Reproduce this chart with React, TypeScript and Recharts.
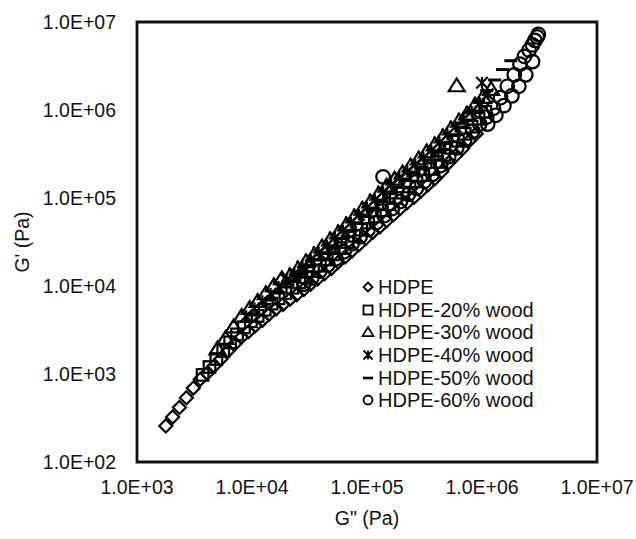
import React from 'react';
import { ScatterChart, Scatter, XAxis, YAxis, ReferenceArea } from 'recharts';

// G'' (x) and G' (y) values, Pa
const hdpeGpp = [1780, 2040, 2340, 2690, 3090, 3550, 4070, 4680, 5370, 6170, 7080, 8130, 9330, 10700, 12300, 14100, 16200, 18600, 21400, 24500, 28200, 32400, 37200, 42700, 49000, 56200, 64600, 74100, 85100, 97700, 112000, 129000, 148000, 170000, 195000, 224000, 257000, 295000, 339000, 389000, 447000, 513000, 589000, 676000, 776000, 891000];
const hdpeGp = [257, 324, 417, 537, 692, 871, 1020, 1230, 1480, 1820, 2190, 2630, 3020, 3550, 4070, 4790, 5500, 6170, 7080, 7940, 9120, 10500, 12000, 13800, 15800, 18600, 21400, 25100, 29500, 34700, 40700, 46800, 55000, 64600, 75900, 89100, 102000, 120000, 141000, 166000, 200000, 251000, 302000, 363000, 447000, 537000];

const w20Gpp = [3720, 4270, 4900, 5620, 6460, 7410, 8510, 9770, 11200, 12900, 14800, 17000, 19500, 22400, 25700, 29500, 33900, 38900, 44700, 51300, 58900, 67600, 77600, 89100, 102000, 117000, 135000, 155000, 178000, 204000, 234000, 269000, 309000, 355000, 407000, 468000, 537000, 617000, 708000, 813000, 933000, 1070000];
const w20Gp = [977, 1200, 1480, 1820, 2290, 2820, 3390, 3980, 4570, 5370, 6310, 7240, 8320, 9550, 11000, 12600, 14800, 17000, 20000, 22900, 26900, 31600, 37200, 43700, 52500, 61700, 72400, 85100, 100000, 115000, 135000, 155000, 182000, 214000, 257000, 309000, 372000, 447000, 537000, 646000, 794000, 955000];

const w30Gpp = [5010, 5890, 6920, 8130, 9550, 11200, 13200, 15500, 18200, 21400, 25100, 29500, 34700, 40700, 47900, 56200, 66100, 77600, 91200, 107000, 126000, 148000, 174000, 204000, 240000, 282000, 331000, 389000, 457000, 537000, 631000, 741000, 871000, 1020000, 1200000, 603000];
const w30Gp = [1950, 2570, 3470, 4570, 5620, 6760, 8320, 10200, 12300, 13200, 15800, 19100, 22900, 28200, 33900, 40700, 50100, 61700, 75900, 91200, 112000, 138000, 166000, 195000, 234000, 282000, 339000, 407000, 501000, 617000, 759000, 912000, 1150000, 1410000, 1740000, 1910000];

const w40Gpp = [8910, 10500, 12300, 14500, 17000, 20000, 23400, 27500, 32400, 38000, 44700, 52500, 61700, 72400, 85100, 100000, 117000, 138000, 162000, 191000, 224000, 263000, 309000, 363000, 427000, 501000, 589000, 692000, 813000, 955000, 1120000, 1000000];
const w40Gp = [4570, 5620, 6760, 8130, 9770, 11700, 13800, 16600, 20000, 24000, 28800, 35500, 42700, 52500, 64600, 77600, 95500, 117000, 141000, 170000, 200000, 240000, 288000, 347000, 427000, 525000, 646000, 794000, 955000, 1200000, 1510000, 2040000];

const w50Gpp = [14100, 16600, 19500, 22900, 26900, 31600, 37200, 43700, 51300, 60300, 70800, 83200, 97700, 115000, 135000, 158000, 186000, 219000, 257000, 302000, 355000, 417000, 490000, 575000, 676000, 794000, 933000, 1100000, 1290000, 1510000, 1780000];
const w50Gp = [6920, 8320, 9770, 11700, 13800, 16600, 20000, 23400, 28200, 34700, 41700, 51300, 61700, 75900, 91200, 112000, 132000, 158000, 191000, 224000, 269000, 331000, 417000, 513000, 708000, 933000, 1260000, 1660000, 2190000, 2880000, 3630000];

const w60Gpp = [28200, 33100, 38900, 45700, 53700, 63100, 74100, 87100, 102000, 120000, 141000, 166000, 195000, 229000, 269000, 316000, 372000, 437000, 513000, 603000, 708000, 832000, 955000, 138000, 1100000, 1260000, 1450000, 1660000, 1910000, 2140000, 2340000, 2570000, 2750000, 2880000, 3020000, 3090000, 1120000, 1320000, 1550000, 1820000, 2090000, 2400000, 2750000];
const w60Gp = [10500, 12300, 14800, 17400, 20400, 24500, 30200, 36300, 43700, 52500, 63100, 75900, 91200, 110000, 129000, 155000, 186000, 234000, 295000, 372000, 457000, 575000, 692000, 174000, 832000, 1050000, 1380000, 1860000, 2510000, 3310000, 4070000, 4790000, 5500000, 6170000, 6760000, 7240000, 692000, 871000, 1120000, 1450000, 1860000, 2510000, 3550000];

const seriesNames = ['HDPE', 'HDPE-20% wood', 'HDPE-30% wood', 'HDPE-40% wood', 'HDPE-50% wood', 'HDPE-60% wood'];

const xTicks = [1e3, 1e4, 1e5, 1e6, 1e7];
const xTickLabels = ['1.0E+03', '1.0E+04', '1.0E+05', '1.0E+06', '1.0E+07'];
const yTicks = [1e2, 1e3, 1e4, 1e5, 1e6, 1e7];
const yTickLabels = ['1.0E+02', '1.0E+03', '1.0E+04', '1.0E+05', '1.0E+06', '1.0E+07'];

const xTitle = 'G" (Pa)';
const yTitle = "G' (Pa)";

const zip = (xs: number[], ys: number[]) => xs.map((x, i) => ({ x, y: ys[i] }));

const INK = '#000';
const SW = 2.2;
const FONT = '"Liberation Sans", Arial, sans-serif';

type MP = { cx: number; cy: number; s?: number; w?: number };

const Diamond = ({ cx, cy, s = 6.5, w = SW }: MP) => (
  <path d={`M${cx},${cy - s}L${cx + s},${cy}L${cx},${cy + s}L${cx - s},${cy}Z`} fill="none" stroke={INK} strokeWidth={w} />
);
const Square = ({ cx, cy, s = 5.8, w = SW }: MP) => (
  <rect x={cx - s} y={cy - s} width={2 * s} height={2 * s} fill="none" stroke={INK} strokeWidth={w} />
);
const Triangle = ({ cx, cy, s = 8, w = SW }: MP) => (
  <path d={`M${cx},${cy - s * 0.85}L${cx + s},${cy + s * 0.75}L${cx - s},${cy + s * 0.75}Z`} fill="none" stroke={INK} strokeWidth={w} />
);
const Star = ({ cx, cy, s = 5.8, w = SW }: MP) => (
  <path d={`M${cx - s},${cy - s}L${cx + s},${cy + s}M${cx + s},${cy - s}L${cx - s},${cy + s}M${cx},${cy - s}L${cx},${cy + s}`} fill="none" stroke={INK} strokeWidth={w} />
);
const Dash = ({ cx, cy, s = 6.5, w = SW }: MP) => (
  <path d={`M${cx - s},${cy}L${cx + s},${cy}`} fill="none" stroke={INK} strokeWidth={w + 0.8} />
);
const Circle = ({ cx, cy, s = 6.8, w = SW }: MP) => <circle cx={cx} cy={cy} r={s} fill="none" stroke={INK} strokeWidth={w} />;

const shapes = [Diamond, Square, Triangle, Star, Dash, Circle];
const legendSizes = [4.5, 4.5, 5.5, 4.5, 5, 4.5];

const seriesData = [
  zip(hdpeGpp, hdpeGp),
  zip(w20Gpp, w20Gp),
  zip(w30Gpp, w30Gp),
  zip(w40Gpp, w40Gp),
  zip(w50Gpp, w50Gp),
  zip(w60Gpp, w60Gp),
];

export default function App() {
  return (
    <div style={{ position: 'absolute', left: 0, top: 0, width: 636, height: 539, background: '#fff', fontFamily: FONT }}>
      <ScatterChart width={636} height={539} margin={{ top: 22, right: 39, bottom: 0, left: 0 }}>
        <XAxis
          type="number"
          dataKey="x"
          scale="log"
          domain={[1e3, 1e7]}
          ticks={xTicks}
          allowDataOverflow
          height={77}
          axisLine={false}
          tickLine={false}
          tickSize={0}
          tickMargin={18}
          tick={{ fill: '#111', fontSize: 19.5, fontFamily: FONT }}
          tickFormatter={(v: number, i: number) => xTickLabels[i]}
          label={{
            content: () => (
              <text x={367} y={525} textAnchor="middle" fill="#111" fontSize={19.5} fontFamily={FONT}>
                {xTitle}
              </text>
            ),
          }}
        />
        <YAxis
          type="number"
          dataKey="y"
          scale="log"
          domain={[1e2, 1e7]}
          ticks={yTicks}
          allowDataOverflow
          width={137}
          axisLine={false}
          tickLine={false}
          tickSize={0}
          tickMargin={21}
          tick={{ fill: '#111', fontSize: 19.5, fontFamily: FONT }}
          tickFormatter={(v: number, i: number) => yTickLabels[i]}
          label={{
            content: () => (
              <text x={29} y={242} transform="rotate(-90 29 242)" textAnchor="middle" fill="#111" fontSize={19.5} fontFamily={FONT}>
                {yTitle}
              </text>
            ),
          }}
        />
        <ReferenceArea x1={1e3} x2={1e7} y1={1e2} y2={1e7} fill="none" fillOpacity={0} stroke="#111" strokeWidth={2.8} />
        {seriesData.map((d, k) => {
          const Shape = shapes[k];
          return (
            <Scatter
              key={seriesNames[k]}
              name={seriesNames[k]}
              data={d}
              isAnimationActive={false}
              shape={(p: any) => <Shape cx={p.cx} cy={p.cy} />}
            />
          );
        })}
      </ScatterChart>
      <div style={{ position: 'absolute', left: 359, top: 276, fontSize: 20, color: '#111', fontFamily: FONT }}>
        {seriesNames.map((n, k) => {
          const Shape = shapes[k];
          return (
            <div key={n} style={{ display: 'flex', alignItems: 'center', height: 22.6 }}>
              <svg width={19} height={22} style={{ display: 'block' }}>
                <Shape cx={9} cy={11} s={legendSizes[k]} w={1.8} />
              </svg>
              <span style={{ whiteSpace: 'nowrap', lineHeight: '22px' }}>{n}</span>
            </div>
          );
        })}
      </div>
    </div>
  );
}
